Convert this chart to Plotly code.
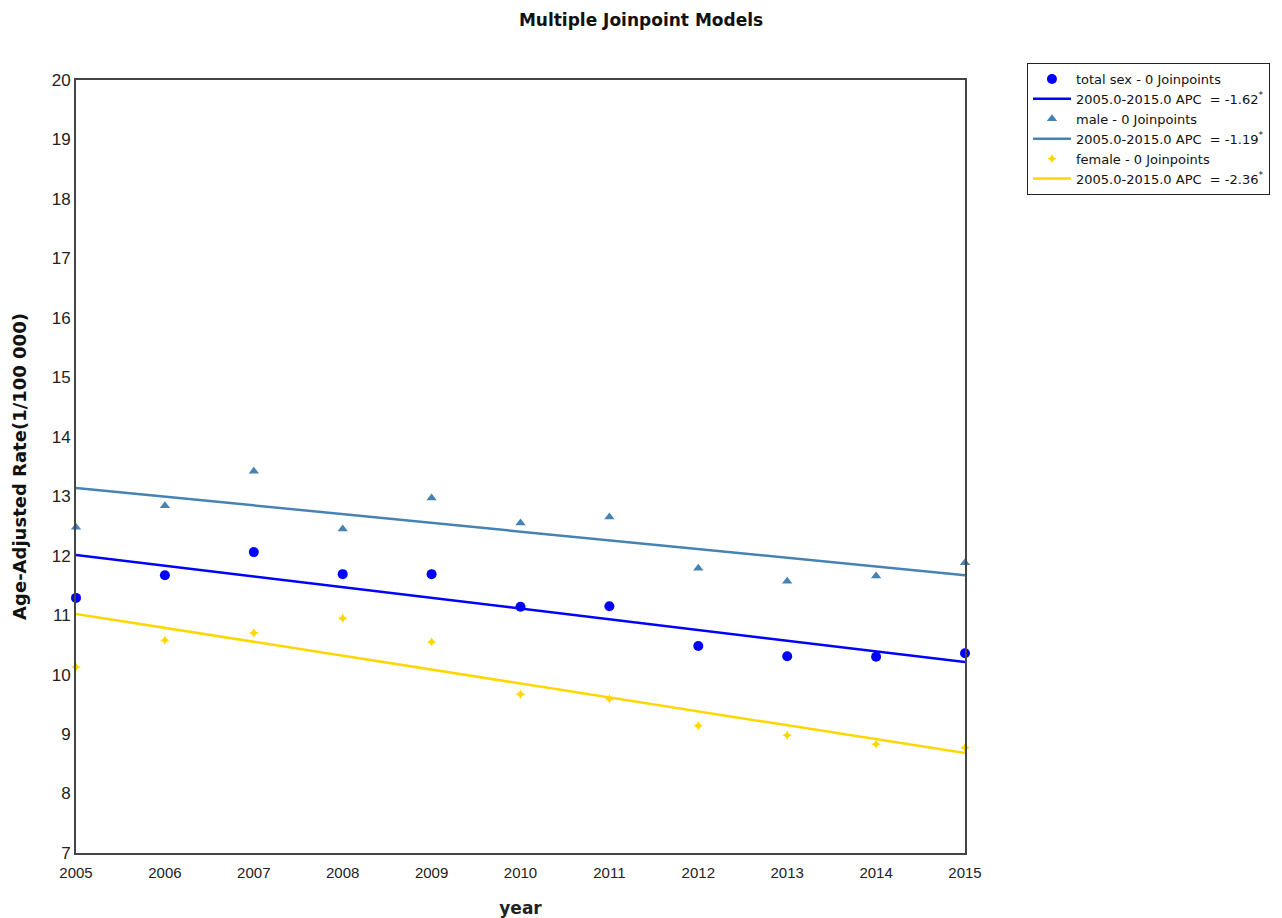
import plotly.graph_objects as go

years = [2005, 2006, 2007, 2008, 2009, 2010, 2011, 2012, 2013, 2014, 2015]
total_rate = [11.29, 11.67, 12.06, 11.69, 11.69, 11.14, 11.15, 10.48, 10.31, 10.30, 10.36]
male_rate = [12.48, 12.84, 13.42, 12.45, 12.97, 12.55, 12.65, 11.79, 11.57, 11.66, 11.88]
female_rate = [10.13, 10.58, 10.70, 10.95, 10.55, 9.67, 9.59, 9.14, 8.98, 8.83, 8.77]

fit_years = [2005, 2015]
total_fit = [12.01, 10.21]
male_fit = [13.14, 11.67]
female_fit = [11.02, 8.68]

apc_total = "-1.62"
apc_male = "-1.19"
apc_female = "-2.36"

c_total = "#0000FF"
c_male = "#4682B4"
c_female = "#FFD700"

fig = go.Figure()
fig.add_trace(go.Scatter(x=years, y=total_rate, mode="markers", name="total sex - 0 Joinpoints",
                         marker=dict(symbol="circle", size=10, color=c_total), cliponaxis=False))
fig.add_trace(go.Scatter(x=fit_years, y=total_fit, mode="lines",
                         name=f"2005.0-2015.0 APC  = {apc_total}<sup>*</sup>",
                         line=dict(color=c_total, width=2.5)))
fig.add_trace(go.Scatter(x=years, y=male_rate, mode="markers", name="male - 0 Joinpoints",
                         marker=dict(symbol="triangle-up", size=9, color=c_male), cliponaxis=False))
fig.add_trace(go.Scatter(x=fit_years, y=male_fit, mode="lines",
                         name=f"2005.0-2015.0 APC  = {apc_male}<sup>*</sup>",
                         line=dict(color=c_male, width=2.5)))
fig.add_trace(go.Scatter(x=years, y=female_rate, mode="markers", name="female - 0 Joinpoints",
                         marker=dict(symbol="star-diamond", size=7, color=c_female), cliponaxis=False))
fig.add_trace(go.Scatter(x=fit_years, y=female_fit, mode="lines",
                         name=f"2005.0-2015.0 APC  = {apc_female}<sup>*</sup>",
                         line=dict(color=c_female, width=2.5)))

fig.update_layout(
    width=1282, height=918,
    paper_bgcolor="white", plot_bgcolor="white",
    margin=dict(l=68, r=325, t=72, b=73, autoexpand=False),
    title=dict(text="<b>Multiple Joinpoint Models</b>", x=0.5 - 8 / 1282, xanchor="center",
               y=1 - 12 / 918, yanchor="middle", font=dict(family="DejaVu Sans", size=17, color="#111")),
    font=dict(family="Arial, Liberation Sans", color="#222"),
    showlegend=True,
    legend=dict(x=1.0697, y=1.022, xanchor="left", yanchor="top",
                bordercolor="#222", borderwidth=1, bgcolor="white",
                font=dict(family="DejaVu Sans", size=13, color="#111"),
                tracegroupgap=0, itemwidth=38),
)
fig.update_xaxes(range=[2005, 2015], tickmode="array", tickvals=years,
                 ticktext=[str(y) for y in years], showgrid=False, zeroline=False,
                 showline=True, linecolor="#444", linewidth=2, mirror=True, automargin=False,
                 ticks="", ticklabelstandoff=5,
                 tickfont=dict(family="Liberation Sans Narrow, Arial Narrow, Arial", size=15, color="#222"),
                 title=dict(text="<b>year</b>", font=dict(family="DejaVu Sans", size=17, color="#222"), standoff=22))
fig.update_yaxes(range=[7, 20], dtick=1, showgrid=False, zeroline=False,
                 showline=True, linecolor="#444", linewidth=2, mirror=True, automargin=False,
                 ticks="", tickfont=dict(family="Arial, Liberation Sans", size=17, color="#222"),
                 title=dict(text="<b>Age-Adjusted Rate(1/100 000)</b>",
                            font=dict(family="DejaVu Sans", size=18, color="#111"), standoff=20))

fig.write_html("out.html")
